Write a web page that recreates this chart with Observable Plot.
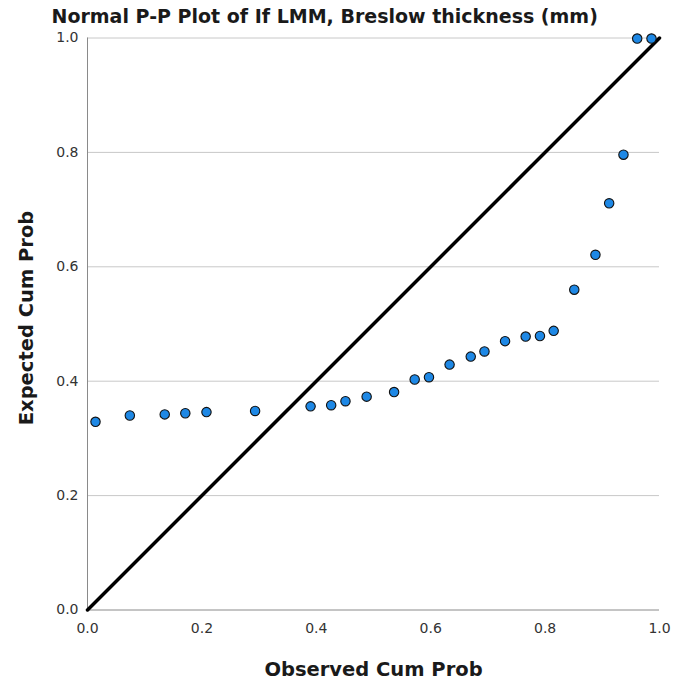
<!DOCTYPE html>
<html>
<head>
<meta charset="utf-8">
<script src="https://cdn.jsdelivr.net/npm/d3@7"></script>
<script src="https://cdn.jsdelivr.net/npm/@observablehq/plot@0.6"></script>
<style>
  html, body { margin: 0; padding: 0; background: #fff; }
  #chart svg { display: block; overflow: visible; }
</style>
</head>
<body>
<div id="chart"></div>
<script>
const titleText = "Normal P-P Plot of If LMM, Breslow thickness (mm)";
const xLabel = "Observed Cum Prob";
const yLabel = "Expected Cum Prob";
const tickValues = [0, 0.2, 0.4, 0.6, 0.8, 1.0];
const gridValues = [0.2, 0.4, 0.6, 0.8, 1.0];
const diagonal = [0, 1];

const observed = [0.014, 0.074, 0.135, 0.171, 0.208, 0.293, 0.390, 0.426, 0.451, 0.488,
                  0.536, 0.572, 0.597, 0.633, 0.670, 0.694, 0.730, 0.766, 0.791, 0.815,
                  0.851, 0.888, 0.912, 0.937, 0.961, 0.986];
const expected = [0.329, 0.340, 0.342, 0.344, 0.346, 0.348, 0.356, 0.358, 0.365, 0.373,
                  0.381, 0.403, 0.407, 0.429, 0.443, 0.452, 0.470, 0.478, 0.479, 0.488,
                  0.560, 0.621, 0.711, 0.796, 0.999, 0.999];

const points = observed.map((x, i) => ({x, y: expected[i]}));
const FONT = "DejaVu Sans, sans-serif";

const chart = Plot.plot({
  width: 673,
  height: 682,
  marginLeft: 87,
  marginRight: 14,
  marginTop: 37.5,
  marginBottom: 72.5,
  style: {fontFamily: FONT, background: "#fff", overflow: "visible"},
  x: {domain: [0, 1]},
  y: {domain: [0, 1]},
  marks: [
    Plot.gridY(gridValues, {stroke: "#c8c8c8", strokeOpacity: 1, strokeWidth: 1}),
    Plot.ruleX([0], {stroke: "#8a8a8a", strokeWidth: 1}),
    Plot.ruleY([0], {stroke: "#8a8a8a", strokeWidth: 1}),
    Plot.axisX({ticks: tickValues, tickFormat: d3.format(".1f"), tickSize: 0, tickPadding: 13,
                fontSize: 14, fill: "#333", label: null}),
    Plot.axisY({ticks: tickValues, tickFormat: d3.format(".1f"), tickSize: 0, tickPadding: 9,
                fontSize: 14, fill: "#333", label: null}),
    Plot.line(diagonal, {x: d => d, y: d => d, stroke: "#000", strokeWidth: 3.5}),
    Plot.dot(points, {x: "x", y: "y", r: 4.7, fill: "#1E88E5", stroke: "#111", strokeWidth: 1.1}),
    Plot.text([titleText], {frameAnchor: "top-left", textAnchor: "start", lineAnchor: "bottom",
                            dx: -36, dy: -15, fontSize: 19, fontWeight: "bold", fill: "#1a1a1a"}),
    Plot.text([xLabel], {frameAnchor: "bottom", textAnchor: "middle", lineAnchor: "bottom",
                         dy: 65.5, fontSize: 19.5, fontWeight: "bold", fill: "#1a1a1a"}),
    Plot.text([yLabel], {frameAnchor: "left", textAnchor: "middle", lineAnchor: "bottom",
                         rotate: -90, dx: -55, dy: -6, fontSize: 19.5, fontWeight: "bold", fill: "#1a1a1a"})
  ]
});
document.getElementById("chart").appendChild(chart);
</script>
</body>
</html>
